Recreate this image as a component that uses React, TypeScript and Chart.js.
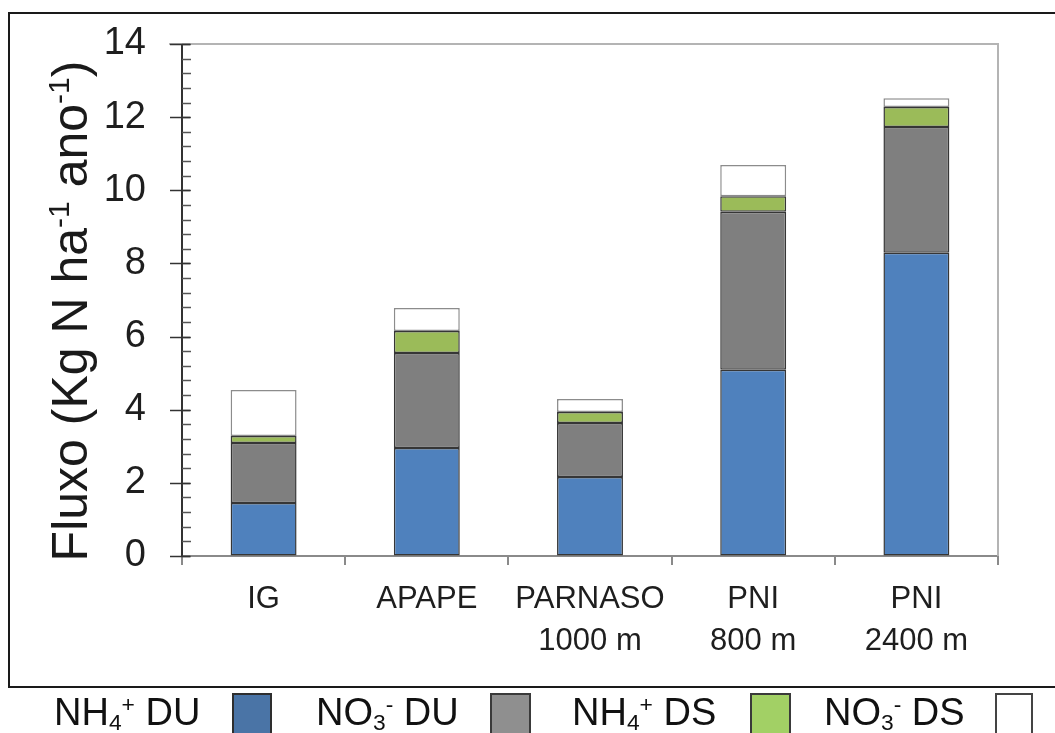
import React, { useEffect, useRef } from "react";
import { Chart, registerables } from "chart.js";

Chart.register(...registerables);

// ---- data ----
const categories: string[][] = [["IG"], ["APAPE"], ["PARNASO", "1000 m"], ["PNI", "800 m"], ["PNI", "2400 m"]];
const nh4DU = [1.45, 2.95, 2.16, 5.09, 8.29];
const no3DU = [1.64, 2.6, 1.48, 4.32, 3.44];
const nh4DS = [0.19, 0.6, 0.3, 0.43, 0.55];
const no3DS = [1.26, 0.63, 0.35, 0.85, 0.24];
const yMin = 0;
const yMax = 14;
const yStep = 2;
const yMinorStep = 0.4;

const FONT = "'Liberation Sans', Arial, Helvetica, sans-serif";

const framePlugin = {
  id: "framePlugin",
  afterDraw(chart: any) {
    const { ctx, chartArea } = chart;
    const y = chart.scales.y;
    ctx.save();
    // top and right gray frame lines
    ctx.strokeStyle = "#b4b4b4";
    ctx.lineWidth = 2;
    ctx.beginPath();
    ctx.moveTo(chartArea.left - 13, chartArea.top);
    ctx.lineTo(chartArea.right, chartArea.top);
    ctx.lineTo(chartArea.right, chartArea.bottom);
    ctx.stroke();
    // minor ticks
    ctx.strokeStyle = "#555";
    ctx.lineWidth = 1.5;
    for (let v = yMin; v <= yMax + 1e-9; v += yMinorStep) {
      const p = Math.round(y.getPixelForValue(v)) + 0.5;
      ctx.beginPath();
      ctx.moveTo(chartArea.left, p);
      ctx.lineTo(chartArea.left + 9, p);
      ctx.stroke();
    }
    // major ticks
    ctx.strokeStyle = "#333";
    ctx.lineWidth = 1.5;
    for (let v = yMin; v <= yMax + 1e-9; v += yStep) {
      const p = Math.round(y.getPixelForValue(v)) + 0.5;
      ctx.beginPath();
      ctx.moveTo(chartArea.left - 12, p);
      ctx.lineTo(chartArea.left + 8, p);
      ctx.stroke();
    }
    // y title with superscripts
    const S = 50;
    const parts = [
      { t: "Fluxo (Kg N ha", sup: false },
      { t: "-1", sup: true },
      { t: " ano", sup: false },
      { t: "-1", sup: true },
      { t: ")", sup: false },
    ];
    const fontFor = (sup: boolean) => `${sup ? Math.round(S * 0.6) : S}px ${FONT}`;
    let total = 0;
    for (const p of parts) {
      ctx.font = fontFor(p.sup);
      total += ctx.measureText(p.t).width;
    }
    ctx.translate(87, 311);
    ctx.rotate(-Math.PI / 2);
    ctx.fillStyle = "#1a1a1a";
    ctx.textBaseline = "alphabetic";
    ctx.textAlign = "left";
    let x = -total / 2;
    for (const p of parts) {
      ctx.font = fontFor(p.sup);
      ctx.fillText(p.t, x, p.sup ? -S * 0.36 : 0);
      x += ctx.measureText(p.t).width;
    }
    ctx.restore();
  },
};

function ChartCanvas() {
  const ref = useRef<HTMLCanvasElement | null>(null);
  useEffect(() => {
    if (!ref.current) return;
    const common = { borderWidth: 1.5, borderSkipped: false as const, barPercentage: 0.404, categoryPercentage: 1 };
    const chart = new Chart(ref.current, {
      type: "bar",
      data: {
        labels: categories,
        datasets: [
          { label: "NH4+ DU", data: nh4DU, backgroundColor: "#4f81bd", borderColor: "#363636", ...common },
          { label: "NO3- DU", data: no3DU, backgroundColor: "#7f7f7f", borderColor: "#363636", ...common },
          { label: "NH4+ DS", data: nh4DS, backgroundColor: "#9bbb59", borderColor: "#363636", ...common },
          { label: "NO3- DS", data: no3DS, backgroundColor: "#ffffff", borderColor: "#8c8c8c", ...common },
        ],
      },
      options: {
        animation: false,
        responsive: false,
        maintainAspectRatio: false,
        layout: { padding: { left: 0, right: 57, top: 44, bottom: 77 } },
        plugins: { legend: { display: false }, tooltip: { enabled: false } },
        scales: {
          x: {
            stacked: true,
            grid: {
              display: true,
              drawOnChartArea: false,
              drawTicks: true,
              tickLength: 9,
              color: "#8a8a8a",
              lineWidth: 2,
              offset: true,
            },
            border: { display: true, color: "#8a8a8a", width: 2 },
            ticks: {
              font: { family: FONT, size: 31, lineHeight: 1.35 },
              color: "#1e1e1e",
              padding: 14,
              maxRotation: 0,
              autoSkip: false,
            },
            afterFit: (s: any) => {
              s.height = 100;
            },
          },
          y: {
            stacked: true,
            min: yMin,
            max: yMax,
            ticks: {
              stepSize: yStep,
              font: { family: FONT, size: 38 },
              color: "#1e1e1e",
              padding: 0,
            },
            grid: {
              display: true,
              drawOnChartArea: false,
              drawTicks: true,
              tickLength: 36,
              color: "rgba(0,0,0,0)",
            },
            border: { display: true, color: "#333", width: 2 },
            afterFit: (s: any) => {
              s.width = 182;
            },
          },
        },
      },
      plugins: [framePlugin],
    });
    return () => chart.destroy();
  }, []);
  return <canvas ref={ref} width={1055} height={733} style={{ position: "absolute", left: 0, top: 0, width: 1055, height: 733 }} />;
}

const legendItems = [
  { main: "NH", sub: "4", sup: "+", rest: " DU", textX: 54, boxX: 232, boxW: 40, fill: "#4a74a6", border: "#2e2e2e" },
  { main: "NO", sub: "3", sup: "-", rest: " DU", textX: 316, boxX: 490, boxW: 41, fill: "#8f8f8f", border: "#3a3a3a" },
  { main: "NH", sub: "4", sup: "+", rest: " DS", textX: 572, boxX: 750, boxW: 41, fill: "#a2d065", border: "#3a3a3a" },
  { main: "NO", sub: "3", sup: "-", rest: " DS", textX: 824, boxX: 995, boxW: 38, fill: "#ffffff", border: "#444" },
];

export default function App() {
  return (
    <div
      style={{
        position: "fixed",
        left: 0,
        top: 0,
        width: 1055,
        height: 733,
        overflow: "hidden",
        background: "#fff",
        fontFamily: FONT,
      }}
    >
      <div
        style={{
          position: "absolute",
          left: 8,
          top: 12,
          width: 1120,
          height: 676,
          boxSizing: "border-box",
          border: "2px solid #1a1a1a",
        }}
      />
      <ChartCanvas />
      {legendItems.map((it, i) => (
        <React.Fragment key={i}>
          <div
            style={{
              position: "absolute",
              left: it.textX,
              top: 693,
              fontSize: 38,
              lineHeight: "38px",
              color: "#111",
              whiteSpace: "pre",
            }}
          >
            {it.main}
            <span style={{ fontSize: "0.6em", position: "relative", top: "0.22em" }}>{it.sub}</span>
            <span style={{ fontSize: "0.6em", position: "relative", top: "-0.55em" }}>{it.sup}</span>
            {it.rest}
          </div>
          <div
            style={{
              position: "absolute",
              left: it.boxX,
              top: 693,
              width: it.boxW,
              height: 48,
              boxSizing: "border-box",
              background: it.fill,
              border: `2px solid ${it.border}`,
            }}
          />
        </React.Fragment>
      ))}
    </div>
  );
}
